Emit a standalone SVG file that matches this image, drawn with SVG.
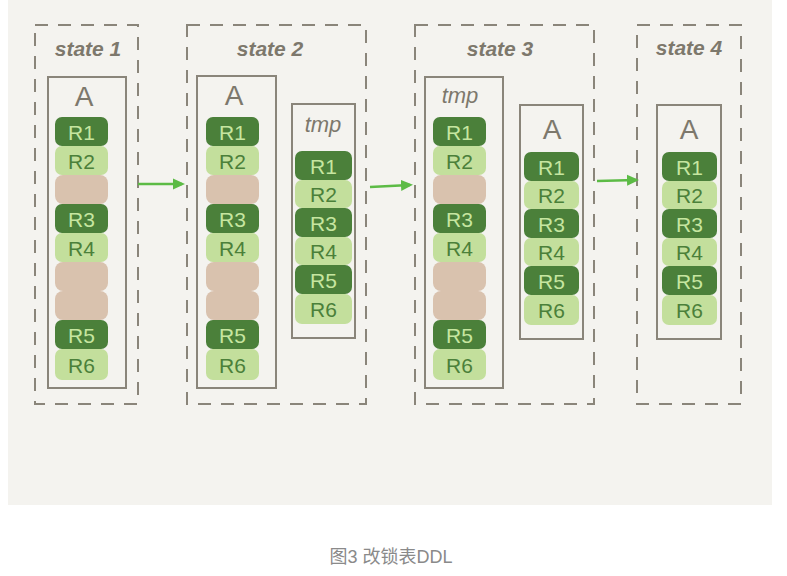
<svg xmlns="http://www.w3.org/2000/svg" width="787" height="576" viewBox="0 0 787 576">
<defs>
<style>
.bg{fill:#f4f3ef}
.dash{fill:none;stroke:#8a857a;stroke-width:2;stroke-dasharray:13 10}
.tbl{fill:none;stroke:#8a857a;stroke-width:2}
.st{font-family:"Liberation Sans",Arial,sans-serif;font-size:21px;font-style:italic;font-weight:bold;fill:#7d786c;text-anchor:middle}
.tn{font-family:"Liberation Sans",Arial,sans-serif;font-size:28px;fill:#7d786c;text-anchor:middle}
.tm{font-family:"Liberation Sans",Arial,sans-serif;font-size:22px;font-style:italic;fill:#7d786c;text-anchor:middle}
.d{fill:#4b803a}
.l{fill:#c3df9c}
.b{fill:#d9c2ae}
.dt{font-family:"Liberation Sans",Arial,sans-serif;font-size:21px;fill:#c6e6a0;text-anchor:middle}
.lt{font-family:"Liberation Sans",Arial,sans-serif;font-size:21px;fill:#4b803a;text-anchor:middle}
.arr{stroke:#5cbb45;stroke-width:2.5;fill:none}
.cap{font-family:"Liberation Sans","Noto Sans CJK SC",sans-serif;font-size:18px;fill:#8a8a8a;text-anchor:middle}
</style>
<marker id="ah" markerWidth="12" markerHeight="12" refX="9" refY="6" orient="auto" markerUnits="userSpaceOnUse">
<path d="M0,0.5 L12,6 L0,11.5 Z" fill="#5cbb45"/>
</marker>
</defs>
<rect class="bg" x="8" y="0" width="764" height="505"/>

<g id="state1">
<rect class="dash" x="35" y="25" width="103" height="379"/>
<text class="st" x="88" y="56">state 1</text>
<g id="s1-A">
<rect class="tbl" x="48" y="77" width="78" height="311"/>
<text class="tn" x="84" y="106">A</text>
<rect class="d" x="55" y="117" width="53" height="29" rx="7"/><text class="dt" x="81.5" y="140">R1</text>
<rect class="l" x="55" y="146" width="53" height="29" rx="7"/><text class="lt" x="81.5" y="169">R2</text>
<rect class="b" x="55" y="175" width="53" height="29" rx="8"/>
<rect class="d" x="55" y="204" width="53" height="29" rx="7"/><text class="dt" x="81.5" y="227">R3</text>
<rect class="l" x="55" y="233" width="53" height="29" rx="7"/><text class="lt" x="81.5" y="256">R4</text>
<rect class="b" x="55" y="262" width="53" height="29" rx="8"/>
<rect class="b" x="55" y="291" width="53" height="29" rx="8"/>
<rect class="d" x="55" y="320" width="53" height="29" rx="7"/><text class="dt" x="81.5" y="343">R5</text>
<rect class="l" x="55" y="349" width="53" height="31" rx="7"/><text class="lt" x="81.5" y="373">R6</text>
</g>
</g>

<g id="state2">
<rect class="dash" x="187" y="25" width="179" height="379"/>
<text class="st" x="270" y="56">state 2</text>
<g id="s2-A">
<rect class="tbl" x="197" y="76" width="79" height="312"/>
<text class="tn" x="234" y="105">A</text>
<rect class="d" x="206" y="117" width="53" height="29" rx="7"/><text class="dt" x="232.5" y="140">R1</text>
<rect class="l" x="206" y="146" width="53" height="29" rx="7"/><text class="lt" x="232.5" y="169">R2</text>
<rect class="b" x="206" y="175" width="53" height="29" rx="8"/>
<rect class="d" x="206" y="204" width="53" height="29" rx="7"/><text class="dt" x="232.5" y="227">R3</text>
<rect class="l" x="206" y="233" width="53" height="29" rx="7"/><text class="lt" x="232.5" y="256">R4</text>
<rect class="b" x="206" y="262" width="53" height="29" rx="8"/>
<rect class="b" x="206" y="291" width="53" height="29" rx="8"/>
<rect class="d" x="206" y="320" width="53" height="29" rx="7"/><text class="dt" x="232.5" y="343">R5</text>
<rect class="l" x="206" y="349" width="53" height="31" rx="7"/><text class="lt" x="232.5" y="373">R6</text>
</g>
<g id="s2-tmp">
<rect class="tbl" x="292" y="104" width="63" height="234"/>
<text class="tm" x="323" y="132">tmp</text>
<rect class="d" x="295" y="151" width="57" height="29" rx="7"/><text class="dt" x="323.5" y="174">R1</text>
<rect class="l" x="295" y="180" width="57" height="28" rx="7"/><text class="lt" x="323.5" y="202">R2</text>
<rect class="d" x="295" y="208" width="57" height="29" rx="7"/><text class="dt" x="323.5" y="231">R3</text>
<rect class="l" x="295" y="237" width="57" height="28" rx="7"/><text class="lt" x="323.5" y="259">R4</text>
<rect class="d" x="295" y="265" width="57" height="29" rx="7"/><text class="dt" x="323.5" y="288">R5</text>
<rect class="l" x="295" y="294" width="57" height="30" rx="7"/><text class="lt" x="323.5" y="317">R6</text>
</g>
</g>

<g id="state3">
<rect class="dash" x="415" y="25" width="179" height="379"/>
<text class="st" x="500" y="56">state 3</text>
<g id="s3-tmp">
<rect class="tbl" x="425" y="77" width="78" height="311"/>
<text class="tm" x="460" y="103">tmp</text>
<rect class="d" x="433" y="117" width="53" height="29" rx="7"/><text class="dt" x="459.5" y="140">R1</text>
<rect class="l" x="433" y="146" width="53" height="29" rx="7"/><text class="lt" x="459.5" y="169">R2</text>
<rect class="b" x="433" y="175" width="53" height="29" rx="8"/>
<rect class="d" x="433" y="204" width="53" height="29" rx="7"/><text class="dt" x="459.5" y="227">R3</text>
<rect class="l" x="433" y="233" width="53" height="29" rx="7"/><text class="lt" x="459.5" y="256">R4</text>
<rect class="b" x="433" y="262" width="53" height="29" rx="8"/>
<rect class="b" x="433" y="291" width="53" height="29" rx="8"/>
<rect class="d" x="433" y="320" width="53" height="29" rx="7"/><text class="dt" x="459.5" y="343">R5</text>
<rect class="l" x="433" y="349" width="53" height="31" rx="7"/><text class="lt" x="459.5" y="373">R6</text>
</g>
<g id="s3-A">
<rect class="tbl" x="520" y="105" width="63" height="234"/>
<text class="tn" x="552" y="139">A</text>
<rect class="d" x="524" y="152" width="55" height="29" rx="7"/><text class="dt" x="551.5" y="175">R1</text>
<rect class="l" x="524" y="181" width="55" height="28" rx="7"/><text class="lt" x="551.5" y="203">R2</text>
<rect class="d" x="524" y="209" width="55" height="29" rx="7"/><text class="dt" x="551.5" y="232">R3</text>
<rect class="l" x="524" y="238" width="55" height="28" rx="7"/><text class="lt" x="551.5" y="260">R4</text>
<rect class="d" x="524" y="266" width="55" height="29" rx="7"/><text class="dt" x="551.5" y="289">R5</text>
<rect class="l" x="524" y="295" width="55" height="30" rx="7"/><text class="lt" x="551.5" y="318">R6</text>
</g>
</g>

<g id="state4">
<rect class="dash" x="637" y="25" width="104" height="379"/>
<text class="st" x="689" y="55">state 4</text>
<g id="s4-A">
<rect class="tbl" x="657" y="105" width="64" height="234"/>
<text class="tn" x="689" y="139">A</text>
<rect class="d" x="662" y="152" width="55" height="29" rx="7"/><text class="dt" x="689.5" y="175">R1</text>
<rect class="l" x="662" y="181" width="55" height="28" rx="7"/><text class="lt" x="689.5" y="203">R2</text>
<rect class="d" x="662" y="209" width="55" height="29" rx="7"/><text class="dt" x="689.5" y="232">R3</text>
<rect class="l" x="662" y="238" width="55" height="28" rx="7"/><text class="lt" x="689.5" y="260">R4</text>
<rect class="d" x="662" y="266" width="55" height="29" rx="7"/><text class="dt" x="689.5" y="289">R5</text>
<rect class="l" x="662" y="295" width="55" height="30" rx="7"/><text class="lt" x="689.5" y="318">R6</text>
</g>
</g>

<g id="connectors">
<line class="arr" x1="138" y1="184" x2="182" y2="184" marker-end="url(#ah)"/>
<line class="arr" x1="370" y1="187" x2="410" y2="185" marker-end="url(#ah)"/>
<line class="arr" x1="597" y1="181" x2="636" y2="180" marker-end="url(#ah)"/>
</g>

<text class="cap" x="391" y="563">图3 改锁表DDL</text>
</svg>
